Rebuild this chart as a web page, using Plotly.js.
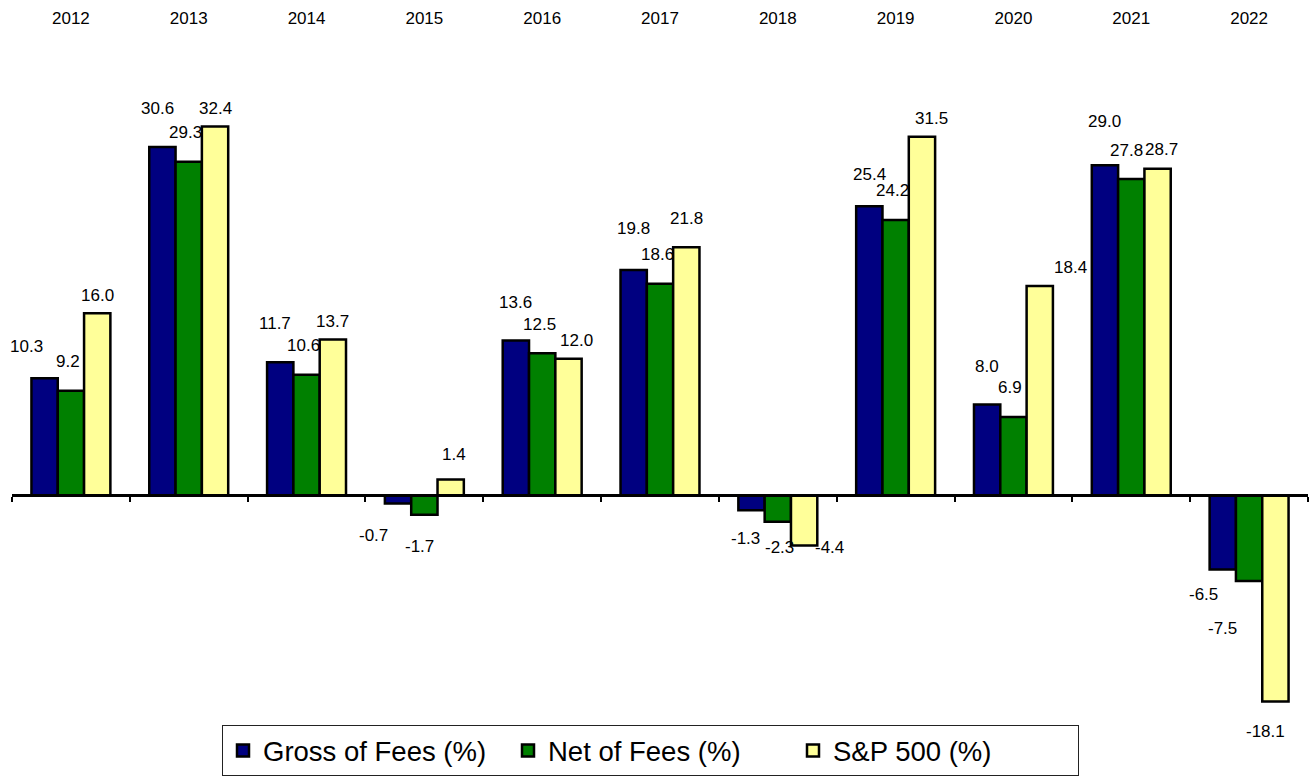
<!DOCTYPE html>
<html>
<head>
<meta charset="utf-8">
<script src="https://cdn.plot.ly/plotly-3.0.1.min.js"></script>
<style>html,body{margin:0;padding:0;background:#fff;}#chart{width:1309px;height:777px;}</style>
</head>
<body>
<div id="chart"></div>
<script>
// ---- data ----
const years = [2012, 2013, 2014, 2015, 2016, 2017, 2018, 2019, 2020, 2021, 2022];
const grossOfFees = [10.3, 30.6, 11.7, -0.7, 13.6, 19.8, -1.3, 25.4, 8.0, 29.0, -6.5];
const netOfFees = [9.2, 29.3, 10.6, -1.7, 12.5, 18.6, -2.3, 24.2, 6.9, 27.8, -7.5];
const sp500 = [16.0, 32.4, 13.7, 1.4, 12.0, 21.8, -4.4, 31.5, 18.4, 28.7, -18.1];
const seriesNames = ['Gross of Fees (%)', 'Net of Fees (%)', 'S&P 500 (%)'];

// ---- style ----
const colors = ['#000080', '#008000', '#FFFF99'];
const FONT = 'Arial, "Liberation Sans", sans-serif';
const bargap = 0.33;
const barW = (1 - bargap) / 3;
const yRange = [-22, 40];

// label placement (pixels): default distance from bar end per series, and horizontal shift
const labelAbove = [38, 29, 18];
const labelBelow = [28, 30, 28];
const labelDx = [0, -3, 0];
// per-label nudges, keyed by series index + year: [dx, distance]
const nudge = {
  '0-2012': [-18, 32], '0-2013': [-5, 39], '0-2014': [-5, 39], '0-2015': [-25, 32],
  '0-2017': [0, 42], '0-2019': [0, 32], '0-2021': [0, 44], '0-2022': [-19, 25],
  '0-2018': [-6, 28],
  '1-2015': [-5, 32], '1-2018': [2, 26], '1-2021': [-5, 28], '1-2022': [-27, 48],
  '2-2015': [3, 25], '2-2016': [8, 18], '2-2017': [0, 29], '2-2019': [10, 18],
  '2-2020': [31, 18], '2-2018': [25, 2], '2-2021': [4, 19], '2-2022': [-10, 30]
};

const allSeries = [grossOfFees, netOfFees, sp500];

const traces = allSeries.map((vals, s) => ({
  type: 'bar',
  name: seriesNames[s],
  x: years,
  y: vals,
  marker: { color: colors[s], line: { color: '#000', width: 2.5 } },
  hoverinfo: 'x+y+name'
}));
// empty trace so the zero-line axis exists
traces.push({ type: 'scatter', x: [], y: [], xaxis: 'x2', showlegend: false, hoverinfo: 'skip' });

const annotations = [];
allSeries.forEach((vals, s) => {
  vals.forEach((v, i) => {
    const key = s + '-' + years[i];
    let dx = labelDx[s];
    let dist = v >= 0 ? labelAbove[s] : labelBelow[s];
    if (nudge[key]) { dx = nudge[key][0]; dist = nudge[key][1]; }
    annotations.push({
      x: years[i] + (s - 1) * barW,
      y: v,
      xref: 'x', yref: 'y',
      text: v.toFixed(1),
      showarrow: false,
      xanchor: 'center', yanchor: 'middle',
      xshift: dx,
      yshift: v >= 0 ? dist : -dist,
      font: { family: FONT, size: 17, color: '#000' }
    });
  });
});

const boundaries = years.map(y => y - 0.5).concat([years[years.length - 1] + 0.5]);
const xRange = [years[0] - 0.5, years[years.length - 1] + 0.5];

const layout = {
  width: 1309, height: 777,
  margin: { l: 12, r: 1, t: 40, b: 29 },
  paper_bgcolor: '#fff', plot_bgcolor: '#fff',
  barmode: 'group', bargap: bargap, bargroupgap: 0,
  font: { family: FONT, color: '#000' },
  xaxis: {
    side: 'top', range: xRange,
    tickvals: years, ticktext: years.map(String),
    ticks: '', showline: false, showgrid: false, zeroline: false,
    ticklabelstandoff: 12,
    tickfont: { family: FONT, size: 17, color: '#000' }
  },
  xaxis2: {
    overlaying: 'x', anchor: 'free',
    position: (0 - yRange[0]) / (yRange[1] - yRange[0]),
    range: xRange, side: 'bottom',
    showline: true, linecolor: '#000', linewidth: 2.5,
    tickvals: boundaries, ticks: 'outside', ticklen: 5, tickwidth: 2, tickcolor: '#000',
    showticklabels: false, showgrid: false, zeroline: false
  },
  yaxis: {
    range: yRange, visible: false, showgrid: false, zeroline: false
  },
  showlegend: true,
  legend: {
    orientation: 'h', x: (222 - 12) / 1296, xanchor: 'left', y: 0.0297, yanchor: 'top',
    bgcolor: '#fff', bordercolor: '#222', borderwidth: 1,
    font: { family: FONT, size: 27.5, color: '#000' },
    entrywidth: 240, traceorder: 'normal'
  },
  annotations: annotations
};

Plotly.newPlot('chart', traces, layout, { displayModeBar: false, staticPlot: true });
</script>
</body>
</html>
